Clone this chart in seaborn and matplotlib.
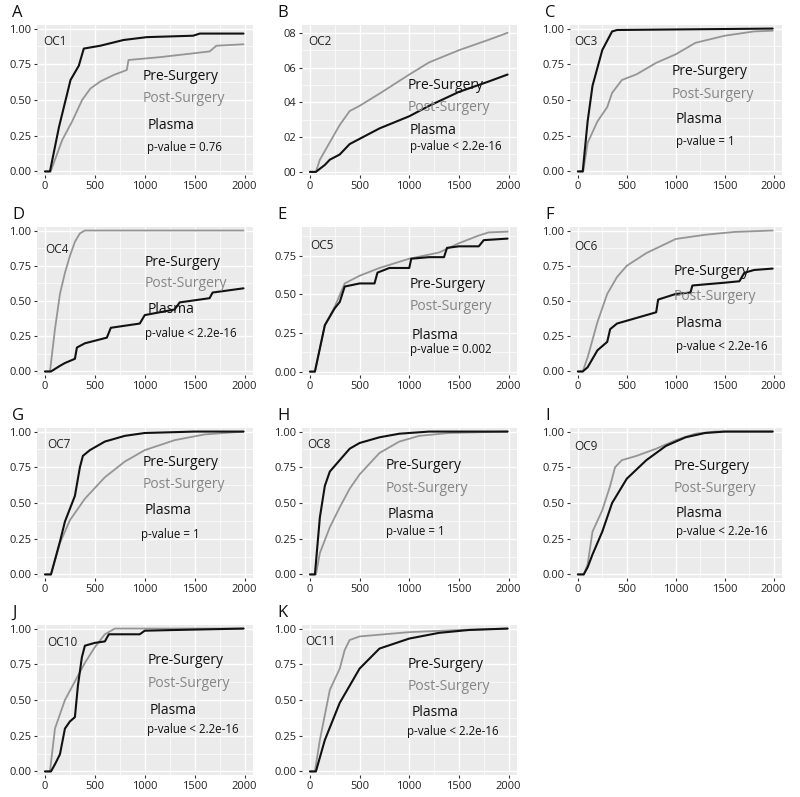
import numpy as np
import pandas as pd
import seaborn as sns
import matplotlib.pyplot as plt
from matplotlib.ticker import MultipleLocator, FixedLocator, FixedFormatter

# cumulative fraction curves (x = days, y = fraction)
oc1_pre_x = [0, 50, 140, 256, 339, 389, 555, 787, 1020, 1485, 1552, 1990]
oc1_pre_y = [0, 0, 0.31, 0.64, 0.74, 0.86, 0.88, 0.92, 0.94, 0.95, 0.965, 0.965]
oc1_post_x = [0, 57, 173, 272, 372, 455, 555, 688, 820, 837, 1153, 1651, 1718, 1990]
oc1_post_y = [0, 0, 0.22, 0.35, 0.50, 0.58, 0.63, 0.675, 0.71, 0.78, 0.80, 0.84, 0.88, 0.89]

oc2_pre_x = [0, 60, 150, 200, 300, 400, 500, 700, 1000, 1200, 1500, 1800, 1990]
oc2_pre_y = [0, 0, 0.04, 0.07, 0.10, 0.16, 0.19, 0.25, 0.32, 0.38, 0.46, 0.52, 0.56]
oc2_post_x = [0, 60, 100, 200, 300, 400, 500, 700, 1000, 1200, 1500, 1800, 1990]
oc2_post_y = [0, 0, 0.07, 0.17, 0.27, 0.35, 0.38, 0.45, 0.56, 0.63, 0.70, 0.76, 0.80]

oc3_pre_x = [0, 50, 100, 150, 250, 350, 400, 1990]
oc3_pre_y = [0, 0, 0.35, 0.60, 0.85, 0.98, 0.99, 1.0]
oc3_post_x = [0, 55, 100, 200, 300, 350, 450, 600, 800, 1000, 1200, 1500, 1800, 1990]
oc3_post_y = [0, 0, 0.20, 0.35, 0.45, 0.55, 0.64, 0.68, 0.76, 0.82, 0.90, 0.95, 0.98, 0.985]

oc4_pre_x = [0, 60, 150, 200, 300, 320, 400, 620, 660, 950, 1000, 1300, 1350, 1650, 1680, 1990]
oc4_pre_y = [0, 0, 0.04, 0.06, 0.09, 0.17, 0.20, 0.24, 0.31, 0.34, 0.40, 0.44, 0.49, 0.52, 0.56, 0.59]
oc4_post_x = [0, 50, 100, 150, 200, 250, 300, 350, 400, 1990]
oc4_post_y = [0, 0, 0.30, 0.55, 0.70, 0.82, 0.92, 0.98, 1.0, 1.0]

oc5_pre_x = [0, 50, 150, 250, 300, 350, 500, 650, 680, 800, 1000, 1020, 1200, 1350, 1380, 1500,
             1700, 1750, 1990]
oc5_pre_y = [0, 0, 0.30, 0.41, 0.45, 0.55, 0.57, 0.57, 0.64, 0.67, 0.67, 0.73, 0.74, 0.74, 0.80, 0.81,
             0.81, 0.85, 0.86]
oc5_post_x = [0, 50, 150, 250, 350, 500, 700, 1000, 1300, 1500, 1700, 1800, 1990]
oc5_post_y = [0, 0, 0.30, 0.42, 0.57, 0.62, 0.67, 0.73, 0.77, 0.83, 0.88, 0.90, 0.905]

oc6_pre_x = [0, 50, 100, 200, 250, 300, 330, 400, 500, 650, 700, 800, 820, 1000, 1150, 1170, 1500,
             1650, 1700, 1800, 1990]
oc6_pre_y = [0, 0, 0.03, 0.15, 0.18, 0.21, 0.30, 0.34, 0.36, 0.39, 0.40, 0.42, 0.51, 0.55, 0.56, 0.61,
             0.63, 0.64, 0.70, 0.72, 0.73]
oc6_post_x = [0, 50, 100, 200, 300, 400, 500, 700, 1000, 1300, 1600, 1990]
oc6_post_y = [0, 0, 0.10, 0.35, 0.55, 0.67, 0.75, 0.84, 0.94, 0.97, 0.99, 1.0]

oc7_pre_x = [0, 60, 150, 200, 250, 300, 350, 380, 450, 600, 800, 1000, 1500, 1990]
oc7_pre_y = [0, 0, 0.23, 0.37, 0.46, 0.55, 0.75, 0.83, 0.87, 0.93, 0.97, 0.99, 1.0, 1.0]
oc7_post_x = [0, 60, 150, 250, 400, 600, 800, 1000, 1300, 1600, 1990]
oc7_post_y = [0, 0, 0.22, 0.38, 0.53, 0.68, 0.79, 0.87, 0.94, 0.98, 1.0]

oc8_pre_x = [0, 50, 100, 150, 200, 300, 400, 500, 700, 900, 1200, 1990]
oc8_pre_y = [0, 0, 0.40, 0.62, 0.72, 0.80, 0.88, 0.92, 0.96, 0.985, 1.0, 1.0]
oc8_post_x = [0, 60, 100, 200, 300, 400, 500, 700, 900, 1100, 1400, 1990]
oc8_post_y = [0, 0, 0.15, 0.33, 0.47, 0.60, 0.70, 0.85, 0.93, 0.97, 0.99, 1.0]

oc9_pre_x = [0, 60, 100, 150, 250, 350, 500, 700, 900, 1100, 1300, 1500, 1990]
oc9_pre_y = [0, 0, 0.05, 0.14, 0.30, 0.50, 0.67, 0.80, 0.90, 0.96, 0.99, 1.0, 1.0]
oc9_post_x = [0, 60, 100, 150, 250, 330, 380, 450, 600, 800, 1000, 1200, 1400, 1990]
oc9_post_y = [0, 0, 0.07, 0.30, 0.45, 0.62, 0.75, 0.80, 0.83, 0.88, 0.94, 0.985, 1.0, 1.0]

oc10_pre_x = [0, 60, 100, 150, 200, 250, 300, 330, 370, 400, 500, 600, 640, 950, 1000, 1300, 1990]
oc10_pre_y = [0, 0, 0.05, 0.12, 0.30, 0.35, 0.38, 0.60, 0.80, 0.88, 0.90, 0.91, 0.96, 0.96, 0.985,
              0.99, 1.0]
oc10_post_x = [0, 50, 100, 200, 300, 400, 500, 600, 700, 1990]
oc10_post_y = [0, 0, 0.30, 0.50, 0.63, 0.76, 0.87, 0.96, 1.0, 1.0]

oc11_pre_x = [0, 60, 150, 300, 500, 700, 1000, 1300, 1600, 1990]
oc11_pre_y = [0, 0, 0.22, 0.48, 0.72, 0.86, 0.93, 0.97, 0.99, 1.0]
oc11_post_x = [0, 50, 100, 200, 300, 350, 400, 500, 1000, 1500, 1990]
oc11_post_y = [0, 0, 0.22, 0.57, 0.72, 0.85, 0.92, 0.945, 0.975, 0.99, 1.0]

panel_letters = ["A", "B", "C", "D", "E", "F", "G", "H", "I", "J", "K"]
panel_names = ["OC1", "OC2", "OC3", "OC4", "OC5", "OC6", "OC7", "OC8", "OC9", "OC10", "OC11"]
p_values = ["p-value = 0.76", "p-value < 2.2e-16", "p-value = 1", "p-value < 2.2e-16",
            "p-value = 0.002", "p-value < 2.2e-16", "p-value = 1", "p-value = 1",
            "p-value < 2.2e-16", "p-value < 2.2e-16", "p-value < 2.2e-16"]

curves = [
    (oc1_pre_x, oc1_pre_y, oc1_post_x, oc1_post_y),
    (oc2_pre_x, oc2_pre_y, oc2_post_x, oc2_post_y),
    (oc3_pre_x, oc3_pre_y, oc3_post_x, oc3_post_y),
    (oc4_pre_x, oc4_pre_y, oc4_post_x, oc4_post_y),
    (oc5_pre_x, oc5_pre_y, oc5_post_x, oc5_post_y),
    (oc6_pre_x, oc6_pre_y, oc6_post_x, oc6_post_y),
    (oc7_pre_x, oc7_pre_y, oc7_post_x, oc7_post_y),
    (oc8_pre_x, oc8_pre_y, oc8_post_x, oc8_post_y),
    (oc9_pre_x, oc9_pre_y, oc9_post_x, oc9_post_y),
    (oc10_pre_x, oc10_pre_y, oc10_post_x, oc10_post_y),
    (oc11_pre_x, oc11_pre_y, oc11_post_x, oc11_post_y),
]

# label placement inside each panel (axes fraction): OC name, then text block
name_pos = [(0.02, 0.89), (0.02, 0.89), (0.01, 0.89), (0.03, 0.85), (0.03, 0.875), (0.01, 0.865),
            (0.036, 0.89), (0.013, 0.89), (0.01, 0.88), (0.036, 0.88), (0.005, 0.89)]
text_pos = [  # x_pre, y_pre, y_post, x_plasma, y_plasma, x_p, y_p
    (0.49, 0.66, 0.51, 0.51, 0.33, 0.51, 0.18),
    (0.49, 0.60, 0.45, 0.50, 0.30, 0.50, 0.19),
    (0.48, 0.69, 0.54, 0.50, 0.37, 0.50, 0.22),
    (0.50, 0.76, 0.62, 0.51, 0.44, 0.50, 0.28),
    (0.50, 0.61, 0.46, 0.51, 0.27, 0.50, 0.175),
    (0.49, 0.70, 0.53, 0.50, 0.35, 0.50, 0.19),
    (0.49, 0.77, 0.62, 0.50, 0.45, 0.48, 0.29),
    (0.39, 0.75, 0.60, 0.40, 0.42, 0.39, 0.31),
    (0.49, 0.74, 0.60, 0.50, 0.43, 0.50, 0.31),
    (0.51, 0.76, 0.61, 0.52, 0.43, 0.51, 0.30),
    (0.49, 0.74, 0.59, 0.51, 0.42, 0.49, 0.29),
]

sns.set_theme(style="whitegrid")
plt.rcParams['font.family'] = ['Open Sans', 'DejaVu Sans']

W, H = 800, 797
fig = plt.figure(figsize=(W / 100, H / 100), dpi=100)

col_lr = [(37, 253), (302, 517), (570, 782)]
row_tb = [(25, 175), (227, 375), (428, 578), (625, 775)]
bg = '#EBEBEB'
pre_col = '#111111'
post_col = '#959595'

for i in range(11):
    r, c = divmod(i, 3)
    l, rr = col_lr[c]
    t, b = row_tb[r]
    ax = fig.add_axes([l / W, 1 - b / H, (rr - l) / W, (b - t) / H])
    ax.set_facecolor(bg)
    for s in ax.spines.values():
        s.set_visible(False)

    pre_x, pre_y, post_x, post_y = curves[i]
    df_pre = pd.DataFrame({'days': pre_x, 'frac': pre_y})
    df_post = pd.DataFrame({'days': post_x, 'frac': post_y})
    sns.lineplot(data=df_post, x='days', y='frac', color=post_col, linewidth=1.3,
                 estimator=None, sort=False, ax=ax)
    sns.lineplot(data=df_pre, x='days', y='frac', color=pre_col, linewidth=1.5,
                 estimator=None, sort=False, ax=ax)
    ax.set_xlabel('')
    ax.set_ylabel('')

    ax.set_xlim(-80, 2085)
    ax.xaxis.set_major_locator(MultipleLocator(500))
    ax.xaxis.set_minor_locator(MultipleLocator(250))
    if i == 1:
        ax.set_ylim(-0.018, 0.845)
        ax.yaxis.set_major_locator(FixedLocator([0, 0.2, 0.4, 0.6, 0.8]))
        ax.yaxis.set_major_formatter(FixedFormatter(["00", "02", "04", "06", "08"]))
        ax.yaxis.set_minor_locator(MultipleLocator(0.1))
    elif i == 4:
        ax.set_ylim(-0.022, 0.935)
        ax.yaxis.set_major_locator(FixedLocator([0, 0.25, 0.5, 0.75]))
        ax.yaxis.set_major_formatter(FixedFormatter(["0.00", "0.25", "0.50", "0.75"]))
        ax.yaxis.set_minor_locator(MultipleLocator(0.125))
    else:
        ax.set_ylim(-0.025, 1.025)
        ax.yaxis.set_major_locator(FixedLocator([0, 0.25, 0.5, 0.75, 1.0]))
        ax.yaxis.set_major_formatter(FixedFormatter(["0.00", "0.25", "0.50", "0.75", "1.00"]))
        ax.yaxis.set_minor_locator(MultipleLocator(0.125))

    ax.grid(which='major', color='white', linewidth=1.0)
    ax.grid(which='minor', color='white', linewidth=0.5)
    ax.set_axisbelow(True)
    ax.tick_params(which='major', length=2.5, width=0.8, color='#333333', labelsize=8,
                   labelcolor='#222222', pad=1.5, bottom=True, left=True)
    ax.tick_params(which='minor', length=0)

    nx, ny = name_pos[i]
    ax.text(nx + 0.01, ny, panel_names[i], transform=ax.transAxes, fontsize=8.5,
            color='#222222', va='center', ha='left')
    xp, yp, ypo, xpl, ypl, xpv, ypv = text_pos[i]
    ax.text(xp, yp, "Pre-Surgery", transform=ax.transAxes, fontsize=10, color='#111111',
            va='center', ha='left')
    ax.text(xp, ypo, "Post-Surgery", transform=ax.transAxes, fontsize=10, color='#858585',
            va='center', ha='left')
    ax.text(xpl, ypl, "Plasma", transform=ax.transAxes, fontsize=10, color='#111111',
            va='center', ha='left')
    ax.text(xpv, ypv, p_values[i], transform=ax.transAxes, fontsize=8.3, color='#111111',
            va='center', ha='left')

    fig.text((l - 25) / W, 1 - (t - 12) / H, panel_letters[i], fontsize=12, color='#111111',
             va='center', ha='left')

fig.savefig('out.png', dpi=100)
